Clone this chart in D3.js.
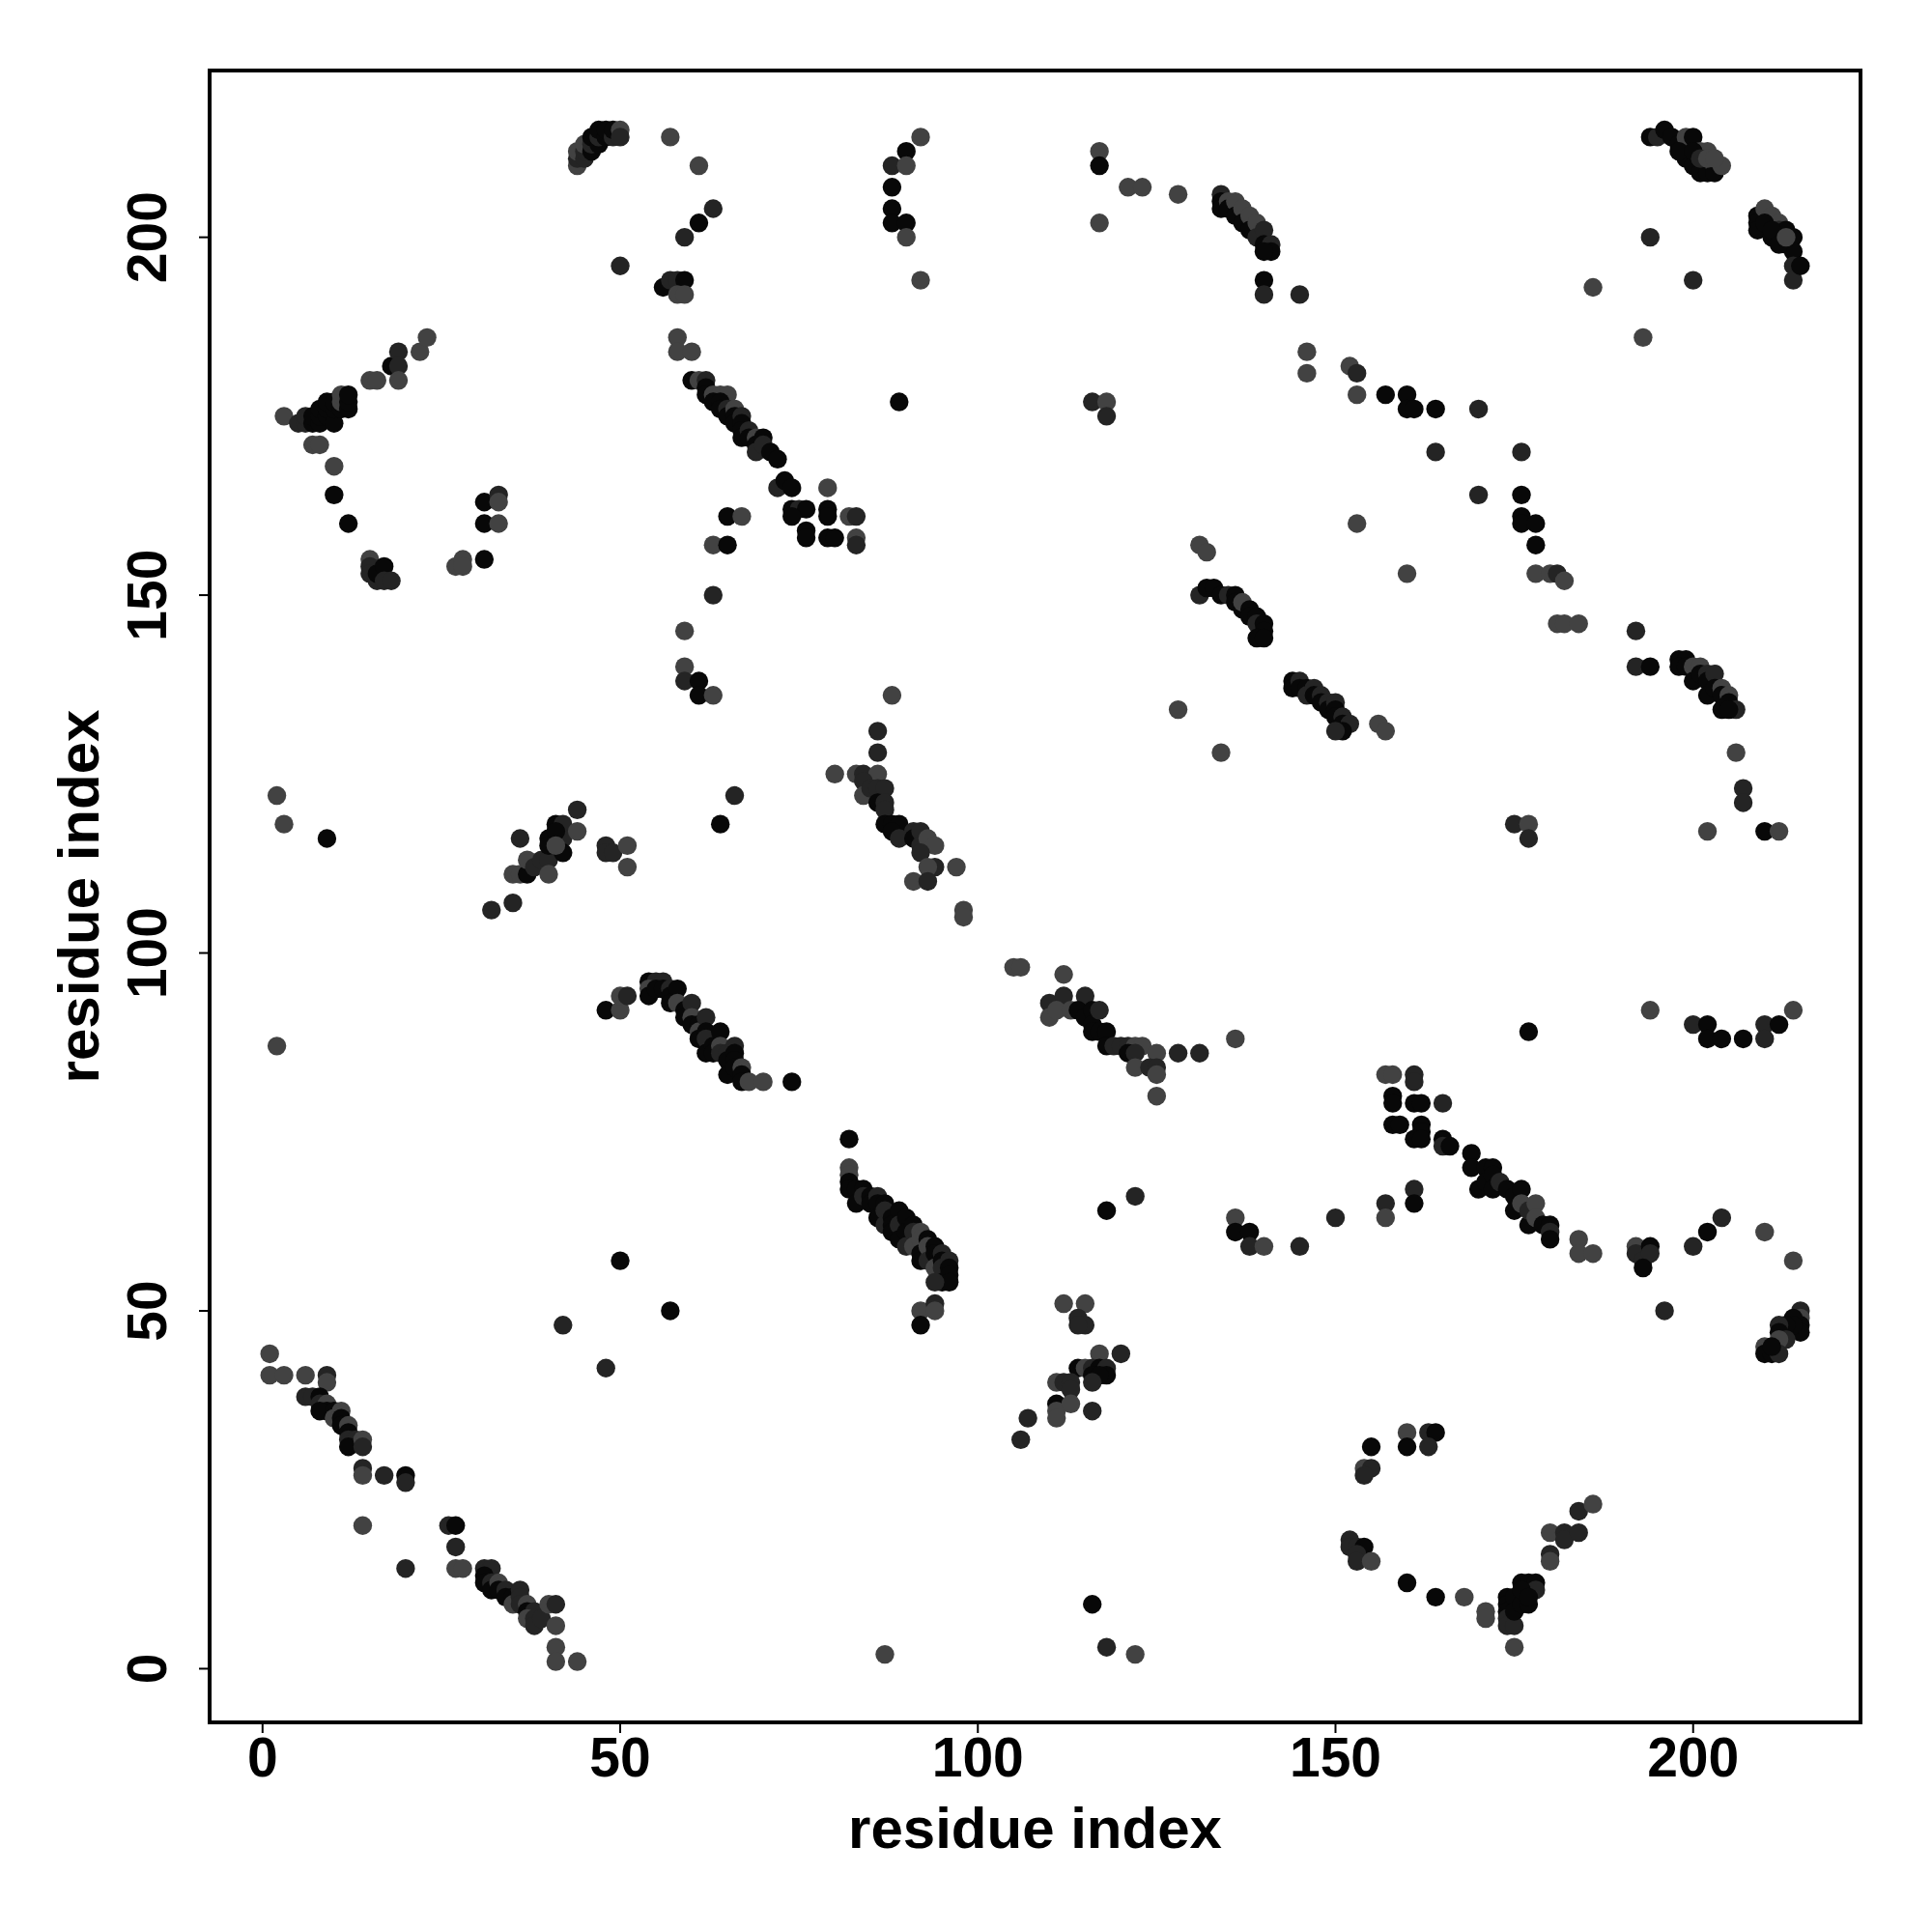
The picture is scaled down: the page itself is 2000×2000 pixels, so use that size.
<!DOCTYPE html>
<html><head><meta charset="utf-8">
<script src="https://cdn.jsdelivr.net/npm/d3@7"></script>
<style>html,body{margin:0;padding:0;background:#fff}</style>
</head><body>
<svg id="chart" width="2000" height="2000"></svg>
<script>
// contact points: residue i (x), residue j (y), shade level (0 black, 1 dark, 2 gray)
const resX = [
44,44,44,45,45,45,46,46,46,47,47,47,48,48,49,49,50,50,57,61,63,61,59,50,56,57,58,59,58,59,58,58,60,
60,61,62,62,62,63,64,65,63,64,64,65,65,66,66,66,67,67,67,67,68,68,69,69,69,70,70,71,72,72,73,74,79,74,75,76,76,76,79,79,79,80,82,83,83,83,
3,5,6,6,7,7,8,8,8,9,9,9,10,10,10,11,11,11,12,12,12,7,8,10,10,12,15,16,18,19,19,19,22,23,15,15,15,16,16,17,17,18,27,28,28,31,31,33,33,31,33,65,67,63,65,63,
92,90,88,90,88,88,88,90,90,92,89,117,117,117,121,123,128,
134,134,134,135,135,136,136,137,137,138,138,139,139,140,140,141,141,140,140,140,145,146,146,116,118,118,131,132,
131,132,133,134,135,136,136,137,137,138,138,139,139,140,140,139,140,
194,195,196,197,198,199,200,199,200,201,201,202,202,203,203,204,198,200,201,202,203,
209,209,209,210,211,211,212,212,213,213,214,214,214,214,215,210,211,212,213,
194,186,200,193,152,153,153,157,160,160,161,164,170,164,176,170,176,176,176,178,178,153,160,178,180,181,182,
181,182,184,192,192,194,198,199,198,199,200,200,201,201,202,202,202,203,203,204,204,204,205,205,206,205,
206,207,207,202,210,212,175,177,177,177,194,200,202,202,204,207,210,210,212,214,
144,144,145,145,146,146,147,147,148,148,149,149,150,150,150,151,151,152,151,150,156,157,
157,158,161,161,158,158,161,162,165,158,159,162,162,161,162,165,165,166,169,169,171,172,
170,171,172,172,173,174,175,176,175,176,177,177,178,178,179,180,180,180,184,184,186,192,192,193,194,194,193,200,202,204,210,214,196,
215,215,215,215,214,214,213,212,212,213,212,210,210,211,212,211,
160,163,164,155,160,163,154,155,154,152,152,153,154,153,153,155,160,164,168,171,171,
174,174,174,174,174,175,175,175,176,177,178,176,177,178,176,177,175,180,180,180,182,182,184,184,186,
59,59,59,61,61,63,2,3,9,32,35,35,36,37,36,37,38,39,40,40,40,40,41,42,42,42,41,41,44,44,48,48,49,51,51,66,64,2,
48,50,50,51,54,55,56,54,54,55,56,57,57,58,57,58,59,59,60,60,60,61,61,61,62,62,62,62,63,63,64,64,64,65,65,65,66,66,66,66,67,67,67,68,70,74,
88,86,86,80,83,84,86,84,84,85,86,87,86,87,87,87,88,89,88,89,91,91,92,92,93,94,92,94,93,97,91,93,98,98,128,134,
105,106,112,110,112,115,110,111,113,114,115,116,116,117,116,117,118,118,119,120,121,122,123,121,122,125,122,124,125,125,125,128,131,136,
50,57,42,48,1,1,3,6,9,9,6,7,8,8,9,9,8,10,10,11,11,11,12,12,12,13,12,14,14,14,14,17,20,20,14,20,26,27,27,27,28,
31,32,31,31,32,32,33,33,34,34,35,35,36,36,36,37,37,38,37,38,38,39,40,41,41,41,41,44,
82,82,82,82,82,83,83,84,84,85,85,86,86,86,87,87,87,88,88,88,89,89,89,90,90,90,91,91,91,92,92,92,92,93,93,93,94,94,94,95,95,95,95,96,96,96,96,94,
92,94,94,92,112,115,114,115,114,117,120,114,115,116,117,118,118,116,117,116,111,112,113,113,111,111,113,111,116,107,106,
116,87,118,122,118,122,136,136,138,138,140,145,150,157,157,161,161,74
];
const resY = [
210,211,212,211,212,213,212,213,214,213,214,215,214,215,214,215,215,214,214,210,204,202,200,196,193,194,194,194,192,192,186,184,184,
180,180,180,179,178,178,178,178,177,177,176,176,175,176,175,174,175,174,173,172,173,172,172,171,170,172,171,170,169,165,166,165,165,162,162,162,159,158,162,161,158,158,161,161,158,157,
175,174,174,175,174,175,174,175,176,175,176,177,174,176,177,176,177,178,176,177,178,171,171,168,164,160,180,180,182,184,182,180,184,186,155,154,153,152,153,154,152,152,154,155,154,155,163,164,163,160,160,161,161,157,157,150,
214,212,210,210,207,204,202,202,200,194,177,212,210,202,207,207,206,
206,205,204,205,204,205,203,204,202,203,201,202,200,201,199,199,198,198,194,192,192,184,181,177,177,175,157,156,
150,151,151,150,150,150,149,148,149,148,147,147,146,146,145,144,144,
214,214,215,214,213,214,214,211,210,212,209,212,209,210,209,210,212,212,211,211,211,
203,202,201,204,203,200,202,201,201,199,200,198,196,194,196,202,201,199,200,
200,193,194,186,182,181,178,178,178,176,176,176,176,170,170,164,164,161,160,160,157,160,153,153,153,153,152,
146,146,146,145,140,140,141,141,140,140,140,138,140,139,139,138,136,139,137,137,136,134,136,135,134,134,
128,123,121,117,117,117,118,118,116,89,92,90,90,88,88,88,90,88,90,92,
138,137,138,137,137,136,137,136,136,135,135,134,135,134,133,133,132,132,131,131,132,131,
83,83,83,82,80,79,79,79,79,76,76,76,75,74,74,74,73,73,72,70,70,70,
67,68,69,67,68,67,66,67,64,65,62,64,65,63,62,62,61,60,60,58,58,59,58,57,59,58,56,59,61,63,61,57,50,
50,49,48,47,49,48,48,48,47,46,46,45,44,44,44,45,
33,33,33,31,31,31,28,28,27,18,17,17,17,16,15,15,12,10,10,8,7,
10,9,8,7,6,6,10,8,12,12,12,9,9,11,11,10,3,16,15,19,19,18,19,22,23,
145,140,138,138,136,136,122,118,116,106,107,111,111,111,116,113,112,113,113,111,116,115,118,118,116,114,117,115,120,117,115,114,114,115,112,122,118,87,
92,92,94,94,96,96,96,95,94,95,95,95,94,95,93,93,92,91,93,91,90,90,89,88,91,89,88,86,87,86,89,87,86,86,85,83,87,86,85,84,84,83,82,82,82,82,
136,131,128,125,125,125,125,124,122,123,123,123,121,121,120,118,118,118,117,116,117,116,117,115,116,115,114,112,112,112,110,110,106,105,134,128,
98,98,97,93,94,94,91,92,92,92,91,92,90,92,89,89,89,87,87,87,87,87,87,86,86,86,84,84,84,83,80,86,86,88,
57,50,48,42,44,41,41,41,41,40,38,38,38,37,37,36,36,36,35,36,35,34,34,33,32,32,31,32,31,28,27,27,27,26,20,14,20,20,17,14,14,
14,14,13,12,12,11,12,11,11,10,10,9,11,10,9,9,8,8,7,7,6,7,9,9,6,3,1,1,
74,70,69,68,67,67,65,67,66,66,65,66,65,63,65,64,62,63,62,61,64,62,60,63,61,59,62,61,59,61,60,58,57,60,59,57,59,58,56,58,57,56,54,57,56,55,54,54,
50,51,50,48,51,51,49,48,48,44,44,42,42,42,42,42,41,41,41,40,40,40,40,39,37,36,37,35,36,35,32,
9,2,3,2,64,66,63,61,61,59,59,59,63,65,63,67,65,161
];
const shade = [
2,1,2,1,1,2,0,1,0,0,1,0,0,0,1,0,2,1,2,2,1,0,1,1,0,1,1,0,2,2,2,2,2,
0,2,1,0,0,2,2,2,0,0,0,1,0,2,0,0,1,0,0,0,1,0,2,0,1,0,1,0,0,1,0,0,2,0,1,0,0,0,0,0,0,0,2,1,2,1,
2,1,1,1,0,0,0,0,0,0,0,0,0,0,0,0,2,2,0,0,0,2,2,2,0,0,2,2,0,1,1,2,2,2,2,1,1,1,0,0,1,1,2,2,2,0,0,1,2,0,2,0,2,2,0,1,
2,0,1,2,0,0,0,0,2,2,0,2,0,2,2,2,2,
1,0,0,2,0,2,0,2,0,2,0,2,1,1,0,1,0,0,0,1,1,2,2,1,2,1,2,2,
1,0,0,0,1,0,0,0,2,0,0,0,1,0,0,0,0,
0,1,0,0,0,2,0,0,0,2,0,2,0,2,0,2,0,0,1,2,2,
0,0,0,2,2,0,2,1,0,0,0,0,1,1,0,0,0,0,2,
1,2,1,2,2,1,2,0,0,0,0,0,1,1,1,1,0,0,0,0,0,2,2,2,2,1,2,
2,2,2,1,1,0,0,0,0,0,2,0,2,0,1,0,0,1,0,2,0,0,2,0,1,0,
2,1,1,2,0,2,1,2,1,0,2,1,0,0,0,0,1,1,0,2,
0,0,1,0,0,1,1,0,1,0,1,0,1,0,0,1,0,1,0,1,2,2,
2,2,1,1,0,0,0,0,1,0,0,0,0,0,0,0,1,0,0,0,0,0,
0,0,0,0,1,0,0,0,0,2,0,1,2,2,0,0,1,0,2,2,2,2,1,1,0,1,0,1,0,1,2,2,1,
1,2,0,0,0,0,0,1,0,1,2,2,0,0,1,0,
2,1,0,0,0,1,2,1,1,1,1,1,0,1,1,2,0,0,2,2,2,
0,0,0,1,1,1,0,0,0,0,0,0,0,1,0,0,2,1,2,2,1,1,1,1,2,
2,2,1,0,0,2,2,2,0,1,1,2,2,0,1,2,1,1,1,2,0,0,0,1,1,0,0,2,1,2,1,1,1,2,2,1,0,2,
0,2,2,1,0,1,1,2,0,0,0,1,0,0,0,2,0,0,1,2,0,0,2,0,1,0,1,0,0,0,0,2,1,1,0,0,1,0,0,0,2,0,0,2,2,0,
2,1,1,2,2,1,2,1,2,1,1,1,0,1,1,0,0,0,0,1,1,0,1,1,2,2,1,1,2,2,2,1,2,2,2,2,
2,2,2,1,1,1,2,2,2,0,0,0,0,1,0,0,0,0,1,1,1,2,2,0,1,2,2,1,1,2,2,1,1,2,
0,0,1,1,2,2,2,2,1,2,1,1,0,1,2,0,0,0,2,2,0,0,2,0,1,1,0,2,1,1,2,1,0,1,2,1,1,0,1,2,2,
1,1,0,0,1,0,2,0,1,0,0,2,1,1,1,2,0,1,2,1,1,1,2,1,2,2,2,2,
0,2,2,0,0,0,0,0,1,0,0,1,0,0,0,1,1,0,0,0,0,1,0,0,0,1,0,1,2,2,2,0,0,0,2,1,0,0,2,1,0,1,0,1,0,0,0,1,
2,1,2,0,2,2,1,1,1,2,1,0,2,1,0,1,0,0,0,1,2,1,1,1,0,2,2,2,1,1,1,
0,2,1,2,0,1,2,0,0,1,2,1,1,1,2,1,0,0
];
const xTicks = [0, 50, 100, 150, 200];
const yTicks = [0, 50, 100, 150, 200];
const axisTitleX = "residue index";
const axisTitleY = "residue index";
const shadeColors = ["#080808", "#242424", "#424242"];

const svg = d3.select("#chart");
const box = {left: 217, right: 1926, top: 73, bottom: 1783};
const x = d3.scaleLinear().domain([-7.4, 223.4]).range([box.left, box.right]);
const y = d3.scaleLinear().domain([-7.5, 223.3]).range([box.bottom, box.top]);
const font = "'Liberation Sans', Arial, Helvetica, sans-serif";

const n = Math.min(resX.length, resY.length, shade.length);
const pts = d3.range(n).map(i => ({x: resX[i], y: resY[i], s: shade[i]}));

svg.append("g").selectAll("circle").data(pts).join("circle")
  .attr("cx", d => x(d.x)).attr("cy", d => y(d.y)).attr("r", 9.7)
  .attr("fill", d => shadeColors[d.s]);

svg.append("rect").attr("x", box.left).attr("y", box.top)
  .attr("width", box.right - box.left).attr("height", box.bottom - box.top)
  .attr("fill", "none").attr("stroke", "#000").attr("stroke-width", 4);

// x axis
const gx = svg.append("g");
gx.selectAll("line").data(xTicks).join("line")
  .attr("x1", d => x(d)).attr("x2", d => x(d))
  .attr("y1", box.bottom).attr("y2", box.bottom + 11)
  .attr("stroke", "#000").attr("stroke-width", 2);
gx.selectAll("text").data(xTicks).join("text")
  .attr("x", d => x(d)).attr("y", 1839)
  .attr("text-anchor", "middle").attr("font-family", font).attr("font-weight", "bold")
  .attr("font-size", 57).text(d => d);

// y axis
const gy = svg.append("g");
gy.selectAll("line").data(yTicks).join("line")
  .attr("y1", d => y(d)).attr("y2", d => y(d))
  .attr("x1", box.left).attr("x2", box.left - 11)
  .attr("stroke", "#000").attr("stroke-width", 2);
gy.selectAll("text").data(yTicks).join("text")
  .attr("transform", d => `translate(172,${y(d)}) rotate(-90)`)
  .attr("text-anchor", "middle").attr("font-family", font).attr("font-weight", "bold")
  .attr("font-size", 57).text(d => d);

svg.append("text").attr("x", (box.left + box.right) / 2).attr("y", 1913)
  .attr("text-anchor", "middle").attr("font-family", font).attr("font-weight", "bold")
  .attr("font-size", 60).text(axisTitleX);
svg.append("text").attr("transform", `translate(102,${(box.top + box.bottom) / 2}) rotate(-90)`)
  .attr("text-anchor", "middle").attr("font-family", font).attr("font-weight", "bold")
  .attr("font-size", 60).text(axisTitleY);
</script>
</body></html>
